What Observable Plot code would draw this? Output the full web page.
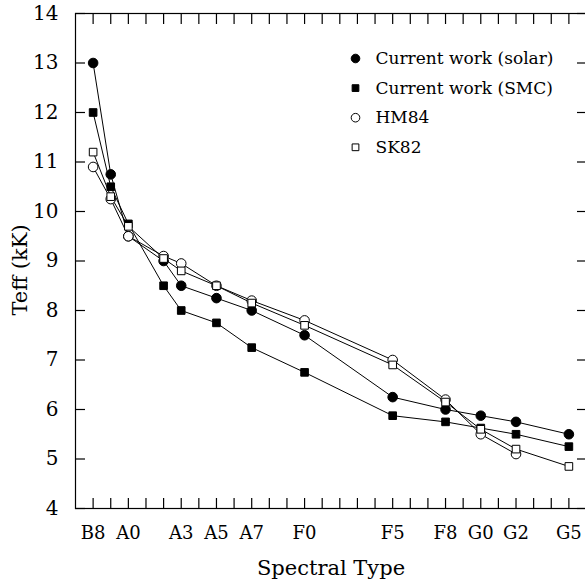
<!DOCTYPE html>
<html>
<head>
<meta charset="utf-8">
<script src="https://cdn.jsdelivr.net/npm/d3@7"></script>
<script src="https://cdn.jsdelivr.net/npm/@observablehq/plot@0.6"></script>
<style>
  html, body { margin: 0; padding: 0; background: white; }
</style>
</head>
<body>
<div id="chart"></div>
<script>
// Spectral types (numeric subclass, A0 = 0) and their names
const spectralNames = ["B8","B9","A0","A2","A3","A5","A7","F0","F5","F8","G0","G2","G5"];
const spectralIndex = [-2, -1, 0, 2, 3, 5, 7, 10, 15, 18, 20, 22, 25];

// Teff (kK) per series
const solar = [13.0, 10.75, 9.5, 9.0, 8.5, 8.25, 8.0, 7.5, 6.25, 6.0, 5.875, 5.75, 5.5];
const smc   = [12.0, 10.5, 9.75, 8.5, 8.0, 7.75, 7.25, 6.75, 5.875, 5.75, 5.625, 5.5, 5.25];
const hm84  = [10.9, 10.25, 9.5, 9.1, 8.95, 8.5, 8.2, 7.8, 7.0, 6.2, 5.5, 5.1, null];
const sk82  = [11.2, 10.3, 9.7, 9.05, 8.8, 8.5, 8.15, 7.7, 6.9, 6.15, 5.6, 5.2, 4.85];

// Axis tick labels
const xTickNames = ["B8","A0","A3","A5","A7","F0","F5","F8","G0","G2","G5"];
const xTickIndex = [-2, 0, 3, 5, 7, 10, 15, 18, 20, 22, 25];
const yTicks = [4,5,6,7,8,9,10,11,12,13,14];
const xMinorTicks = d3.range(-2, 26);

const seriesNames = ["Current work (solar)", "Current work (SMC)", "HM84", "SK82"];
const seriesValues = [solar, smc, hm84, sk82];
const seriesSymbol = ["circle", "square", "circle", "square"];
const seriesFilled = [true, true, false, false];

const rows = [];
seriesNames.forEach((name, s) => {
  seriesValues[s].forEach((v, i) => {
    if (v != null) rows.push({series: name, s, x: spectralIndex[i], y: v});
  });
});

const W = 585, H = 583, ML = 75, MR = -1, MT = 13, MB = 75;
const TL = 10; // inward tick length
const font = "DejaVu Serif";
const xLabel = d => { const k = xTickIndex.indexOf(d); return k >= 0 ? xTickNames[k] : ""; };

const marks = [];
// axis titles
marks.push(Plot.text(["Spectral Type"], {frameAnchor: "bottom", textAnchor: "middle", lineAnchor: "middle",
  dy: 60, fontSize: 21, fontFamily: font, text: d => d, letterSpacing: "1.8px"}));
marks.push(Plot.text(["Teff (kK)"], {frameAnchor: "left", textAnchor: "middle", lineAnchor: "middle",
  dx: -55, dy: 9, rotate: -90, fontSize: 21, fontFamily: font, text: d => d, letterSpacing: "0.6px"}));

// series
seriesNames.forEach((name, s) => {
  const data = rows.filter(r => r.s === s);
  marks.push(Plot.line(data, {x: "x", y: "y", stroke: "black", strokeWidth: 1}));
});
seriesNames.forEach((name, s) => {
  const data = rows.filter(r => r.s === s);
  const isSq = seriesSymbol[s] === "square";
  marks.push(Plot.dot(data, {x: "x", y: "y", symbol: seriesSymbol[s],
    r: isSq ? 4.3 : 4.8,
    fill: seriesFilled[s] ? "black" : "white",
    stroke: "black", strokeWidth: 1}));
});

// legend
seriesNames.forEach((name, s) => {
  const isSq = seriesSymbol[s] === "square";
  marks.push(Plot.dot([name], {frameAnchor: "top-left", dx: 280, dy: 45 + 29.6 * s,
    symbol: seriesSymbol[s], r: isSq ? 3.8 : 4.3,
    fill: seriesFilled[s] ? "black" : "white", stroke: "black", strokeWidth: 1}));
  marks.push(Plot.text([name], {frameAnchor: "top-left", dx: 300, dy: 45 + 29.6 * s,
    text: d => d, textAnchor: "start", lineAnchor: "middle", fontSize: 17, fontFamily: font, letterSpacing: "0.5px"}));
});

// frame and inward ticks on all four sides
marks.push(Plot.frame({stroke: "black", strokeWidth: 1.2}));
marks.push(Plot.axisX(xMinorTicks, {anchor: "bottom", tickSize: -TL, tickPadding: 18 + TL, fontSize: 18,
  fontFamily: font, label: null, tickFormat: xLabel, stroke: "black", strokeWidth: 1.2}));
marks.push(Plot.axisX(xMinorTicks, {anchor: "top", tickSize: -TL, label: null, tickFormat: () => "",
  stroke: "black", strokeWidth: 1.2}));
marks.push(Plot.axisY(yTicks, {anchor: "left", tickSize: -TL, tickPadding: 17 + TL, fontSize: 20,
  fontFamily: font, label: null, tickFormat: d => String(d), stroke: "black", strokeWidth: 1.2}));
marks.push(Plot.axisY(yTicks, {anchor: "right", tickSize: -TL, label: null, tickFormat: () => "",
  stroke: "black", strokeWidth: 1.2}));

const chart = Plot.plot({
  width: W,
  height: H,
  marginLeft: ML,
  marginRight: MR,
  marginTop: MT,
  marginBottom: MB,
  style: {background: "white", color: "black", fontFamily: font},
  x: {type: "linear", domain: [-3, 26]},
  y: {type: "linear", domain: [4, 14]},
  marks
});
document.getElementById("chart").appendChild(chart);
</script>
</body>
</html>
